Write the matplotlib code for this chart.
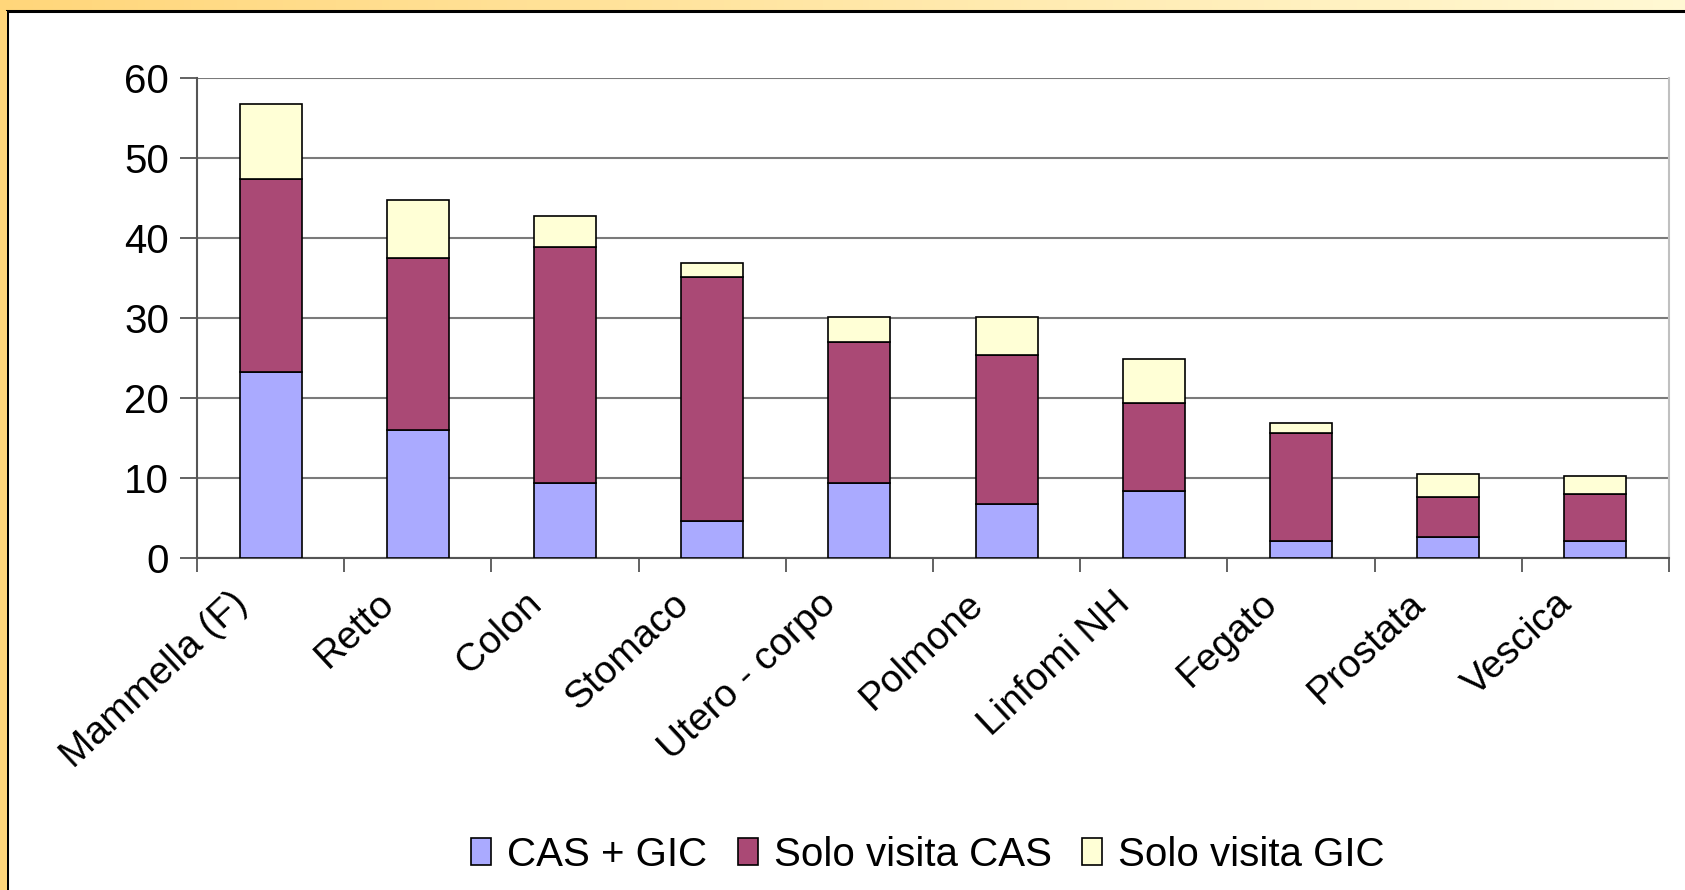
import numpy as np
import matplotlib.pyplot as plt
import matplotlib.transforms as mtransforms
from matplotlib.patches import Rectangle

plt.rcParams['font.family'] = ['Liberation Sans', 'DejaVu Sans']

categories = ['Mammella (F)', 'Retto', 'Colon', 'Stomaco', 'Utero - corpo',
              'Polmone', 'Linfomi NH', 'Fegato', 'Prostata', 'Vescica']
cas_gic = [23.2, 16.0, 9.3, 4.6, 9.3, 6.7, 8.4, 2.05, 2.55, 2.05]
solo_cas = [24.1, 21.5, 29.5, 30.45, 17.7, 18.6, 11.0, 13.55, 5.0, 5.95]
solo_gic = [9.4, 7.25, 3.9, 1.75, 3.1, 4.8, 5.5, 1.3, 2.95, 2.2]
series_names = ['CAS + GIC', 'Solo visita CAS', 'Solo visita GIC']
colors = ['#AAAAFF', '#AA4975', '#FFFFD6']
yticks = [0, 10, 20, 30, 40, 50, 60]

W, H = 1685, 890
fig = plt.figure(figsize=(W / 100, H / 100), dpi=100)

# slide frame: orange gradient band behind a white panel
bg = fig.add_axes([0, 0, 1, 1], zorder=-10)
grad = np.linspace(0, 1, 256)[None, :, None]
c0 = np.array([1.0, 0.84, 0.48])
c1 = np.array([1.0, 0.975, 0.83])
bg.imshow(c0 + (c1 - c0) * grad, aspect='auto', extent=[0, 1, 0, 1])
bg.set_xlim(0, 1)
bg.set_ylim(0, 1)
bg.axis('off')
bg.add_patch(Rectangle((7 / W, -0.01), 1.0, 1 - 11 / H + 0.01, facecolor='white',
                       edgecolor='black', linewidth=2.2))
bg.add_patch(Rectangle((0, 0), 7 / W, 1 - 11 / H, facecolor='#FFD67B',
                       edgecolor='none'))

ax = fig.add_axes([197 / W, 1 - 557.7 / H, (1669 - 197) / W, (557.7 - 77.7) / H])
x = np.arange(len(categories))
bottom = np.zeros(len(categories))
for vals, col, name in zip([cas_gic, solo_cas, solo_gic], colors, series_names):
    ax.bar(x, vals, 0.42, bottom=bottom, color=col, edgecolor='black',
           linewidth=1.2, label=name, zorder=3)
    bottom += np.array(vals)

ax.set_xlim(-0.5, len(categories) - 0.5)
ax.set_ylim(0, 60)
ax.set_yticks(yticks)
ax.yaxis.grid(True, color='#7A7A7A', linewidth=1.5, zorder=0)
ax.tick_params(axis='y', labelsize=29, length=12, width=1.3, color='#555555', pad=8)

ax.set_xticks(x)
ax.set_xticklabels(categories, rotation=43, ha='right', va='top',
                   rotation_mode='anchor', fontsize=28)
ax.set_xticks(np.arange(len(categories) + 1) - 0.5, minor=True)
ax.tick_params(axis='x', which='major', length=0, pad=20)
ax.tick_params(axis='x', which='minor', length=10, width=1.3, color='#555555')
# pull the slanted labels left so they end just short of the category centre
shift = mtransforms.ScaledTranslation(-0.41, 0, fig.dpi_scale_trans)
for lbl in ax.get_xticklabels():
    lbl.set_transform(lbl.get_transform() + shift)

ax.spines['top'].set_visible(False)
ax.spines['right'].set_color('#C0C0C0')
ax.spines['right'].set_linewidth(1.5)
ax.spines['left'].set_color('#555555')
ax.spines['left'].set_linewidth(1.5)
ax.spines['bottom'].set_color('#555555')
ax.spines['bottom'].set_linewidth(1.5)

leg = fig.legend(loc='center', bbox_to_anchor=(928 / W, 1 - 855 / H), ncol=3,
                 frameon=False, fontsize=29, handlelength=0.5, handleheight=0.65,
                 handletextpad=0.4, columnspacing=0.75)

fig.savefig('out.png', dpi=100)
